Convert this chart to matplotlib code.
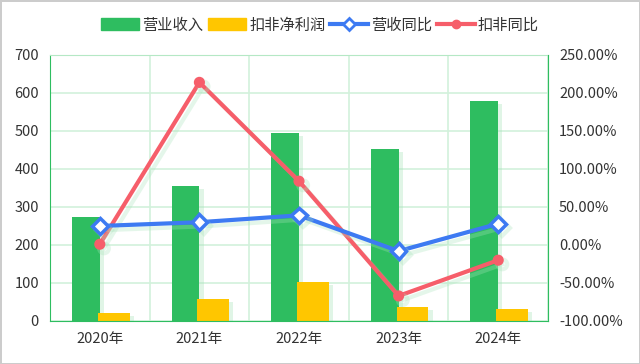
import matplotlib.pyplot as plt
import matplotlib.patheffects as pe
from matplotlib.lines import Line2D
from matplotlib.patches import Patch
import numpy as np

plt.rcParams['font.family'] = ['Noto Sans CJK SC', 'DejaVu Sans']

years = ['2020年', '2021年', '2022年', '2023年', '2024年']
revenue = [274, 355, 495, 453, 579]
profit = [20, 58, 103, 37, 31]
rev_yoy = [25, 30, 39, -8, 28]
profit_yoy = [1, 214, 84, -67, -20]

green = '#2EBD60'
yellow = '#FFC600'
blue = '#3D7AF2'
red = '#F65E6A'
grid_c = '#D2F1DC'
shadow = pe.SimplePatchShadow(offset=(3, -2), shadow_rgbFace='#A8E4BA', alpha=0.35)
lshadow = pe.SimpleLineShadow(offset=(3, -3), shadow_color='#A8E4BA', alpha=0.3, linewidth=3)

fig = plt.figure(figsize=(6.4, 3.64), dpi=100)
fig.patch.set_edgecolor('#CCCCCC')
fig.patch.set_linewidth(2)
ax = fig.add_axes([50 / 640, 43 / 364, 498 / 640, 266 / 364])
x = np.arange(len(years))

ax.bar(x - 0.14, revenue, width=0.28, color=green, zorder=2,
       path_effects=[shadow, pe.Normal()])
ax.bar(x + 0.14, profit, width=0.32, color=yellow, zorder=2,
       path_effects=[shadow, pe.Normal()])
ax.set_xlim(-0.5, 4.5)
ax.set_ylim(0, 700)
ax.set_yticks(range(0, 701, 100))
ax.set_xticks(x)
ax.set_xticklabels(years)
ax.set_xticks(np.arange(-0.5, 4.6, 0.5), minor=True)
ax.grid(True, which='minor', axis='x', color=grid_c, lw=1.2, zorder=0)
ax.grid(True, which='major', axis='y', color=grid_c, lw=1.2, zorder=0)
ax.tick_params(which='both', length=0, labelsize=10.5, colors='#333333', pad=8)
for s in ['left', 'bottom']:
    ax.spines[s].set_color(green)
ax.spines['top'].set_color('#B5E8C5')
ax.spines['right'].set_color(grid_c)

ax2 = ax.twinx()
ax2.set_ylim(-100, 250)
ax2.set_yticks(range(-100, 251, 50))
ax2.set_yticklabels([f'{v:.2f}%' for v in range(-100, 251, 50)])
ax2.tick_params(length=0, labelsize=10.5, colors='#333333', pad=8)
for s in ax2.spines.values():
    s.set_visible(False)
ax2.spines['right'].set_visible(True)
ax2.spines['right'].set_color(green)
ax2.plot(x, profit_yoy, color=red, lw=3, marker='o', ms=7, zorder=3,
         path_effects=[lshadow, pe.Normal()])
ax2.plot(x, rev_yoy, color=blue, lw=3, marker='D', ms=8, mfc='white',
         mec=blue, mew=2.5, zorder=4, path_effects=[lshadow, pe.Normal()])

handles = [
    Patch(color=green, label='营业收入'),
    Patch(color=yellow, label='扣非净利润'),
    Line2D([], [], color=blue, lw=3, marker='D', ms=6, mfc='white', mec=blue, mew=2, label='营收同比'),
    Line2D([], [], color=red, lw=3, marker='o', ms=6, label='扣非同比'),
]
fig.legend(handles=handles, loc='center', bbox_to_anchor=(0.5, 1 - 25 / 364),
           ncol=4, frameon=False, fontsize=11, handlelength=2.5, handleheight=0.8,
           columnspacing=0.3, handletextpad=0.2, labelcolor='#333333')

fig.savefig('out.png', dpi=100)
